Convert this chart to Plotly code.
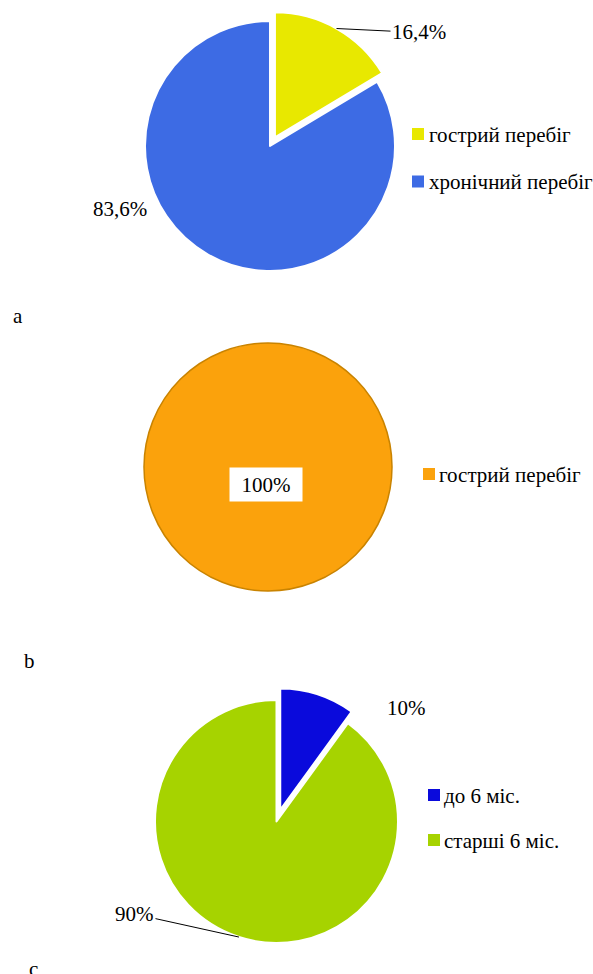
import math
import plotly.graph_objects as go

W, H = 593, 974

# ---------------- data ----------------
labels_a = ["гострий перебіг", "хронічний перебіг"]
values_a = [16.4, 83.6]
text_a = ["16,4%", "83,6%"]
colors_a = ["#E8E800", "#3D6BE4"]

labels_b = ["гострий перебіг"]
values_b = [100]
text_b = ["100%"]
colors_b = ["#FBA20C"]

labels_c = ["до 6 міс.", "старші 6 міс."]
values_c = [10, 90]
text_c = ["10%", "90%"]
colors_c = ["#0A0ADC", "#A6D300"]

panel_letters = ["a", "b", "c"]

# ---------------- layout helpers ----------------
FONT = "Liberation Serif, Times New Roman, Tinos, DejaVu Serif, serif"
FS = 21


def px(x):
    return x / W


def py(y):
    return 1 - y / H


def domain(cx, cy, r, pull):
    half = r * (1 + pull)
    return dict(x=[(cx - half) / W, (cx + half) / W],
                y=[1 - (cy + half) / H, 1 - (cy - half) / H])


def tip(cx, cy, r, pull, values, i):
    tot = sum(values)
    mid = (sum(values[:i]) + values[i] / 2) / tot
    ang = 2 * math.pi * mid
    d = r * (1 + pull)
    return cx + d * math.sin(ang), cy - d * math.cos(ang)


# pie geometry (pixels)
geo_a = dict(cx=270, cy=146, r=125, pull=0.08)
geo_b = dict(cx=268, cy=467, r=124, pull=0.0)
geo_c = dict(cx=276.5, cy=821.5, r=121.5, pull=0.1)

fig = go.Figure()

fig.add_trace(go.Pie(
    labels=labels_a, values=values_a, sort=False, direction="clockwise",
    rotation=0, pull=[geo_a["pull"], 0], textinfo="none", showlegend=False,
    marker=dict(colors=colors_a, line=dict(color="white", width=2)),
    domain=domain(**geo_a), hoverinfo="label+percent"))

fig.add_trace(go.Pie(
    labels=labels_b, values=values_b, sort=False, direction="clockwise",
    rotation=0, textinfo="none", showlegend=False,
    marker=dict(colors=colors_b, line=dict(color="#C98300", width=1.5)),
    domain=domain(**geo_b), hoverinfo="label+percent"))

fig.add_trace(go.Pie(
    labels=labels_c, values=values_c, sort=False, direction="clockwise",
    rotation=0, pull=[geo_c["pull"], 0], textinfo="none", showlegend=False,
    marker=dict(colors=colors_c, line=dict(color="white", width=2)),
    domain=domain(**geo_c), hoverinfo="label+percent"))

annotations = []
shapes = []
font = dict(family=FONT, size=FS, color="black")


def label(text, x, y, **kw):
    d = dict(text=text, x=px(x), y=py(y), xref="paper", yref="paper",
             showarrow=False, font=font, xanchor="center", yanchor="middle")
    d.update(kw)
    annotations.append(d)


def arrow_label(text, tx, ty, geo, values, i):
    x0, y0 = tip(geo["cx"], geo["cy"], geo["r"], geo["pull"] if i == 0 else 0,
                 values, i)
    annotations.append(dict(
        text=text, x=px(x0), y=py(y0), xref="paper", yref="paper",
        showarrow=True, arrowhead=0, arrowwidth=1, arrowcolor="black",
        ax=tx - x0, ay=ty - y0, standoff=0, font=font))


# data labels
arrow_label(text_a[0], 419, 32.5, geo_a, values_a, 0)
label(text_a[1], 119.5, 208.5)
label(text_b[0], 266, 484.5, bgcolor="white", width=66, height=27, borderpad=3)
label(text_c[0], 407, 708)
arrow_label(text_c[1], 134.5, 914, geo_c, values_c, 1)

# panel letters
label(panel_letters[0], 18, 316)
label(panel_letters[1], 29, 660.5)
label(panel_letters[2], 33, 969)


# legends (drawn manually for exact spacing)
def legend(labels, colors, sx, ys, tx):
    for lab, col, yc in zip(labels, colors, ys):
        shapes.append(dict(type="rect", xref="paper", yref="paper",
                           x0=px(sx), x1=px(sx + 12), y0=py(yc + 6), y1=py(yc - 6),
                           fillcolor=col, line=dict(width=0)))
        label(lab, tx - 1, yc + 0.5, xanchor="left")


legend(labels_a, colors_a, 412, [134, 181.5], 428)
legend(labels_b, colors_b, 423, [474], 438)
legend(labels_c, colors_c, 428, [795, 840], 443)

fig.update_layout(
    width=W, height=H, margin=dict(l=0, r=0, t=0, b=0),
    paper_bgcolor="white", plot_bgcolor="white",
    showlegend=False, annotations=annotations, shapes=shapes,
    font=font,
)

fig.write_html(
    "out.html",
    config={"displayModeBar": False},
    post_script="document.body.style.margin='0';document.body.style.overflow='hidden';",
)
